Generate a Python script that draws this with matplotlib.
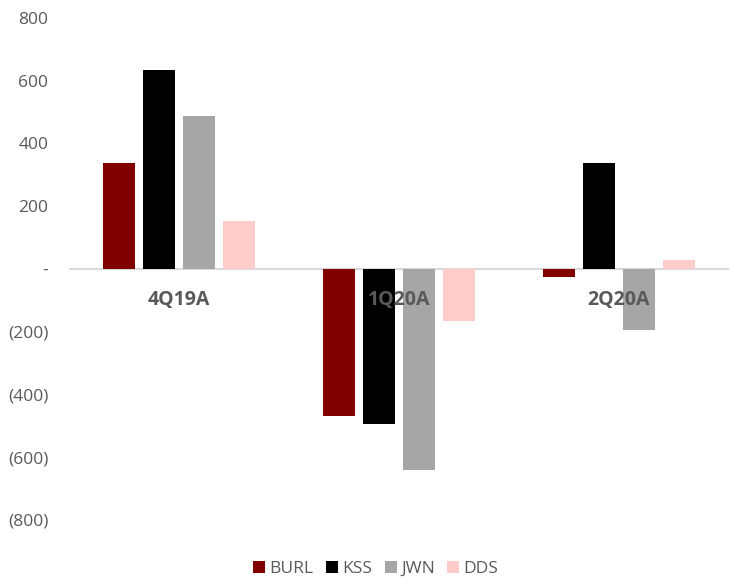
import numpy as np
import matplotlib.pyplot as plt

quarters = ['4Q19A', '1Q20A', '2Q20A']
burl = [339, -470, -26]
kss = [634, -493, 339]
jwn = [486, -640, -195]
dds = [154, -166, 29]

series = [('BURL', burl, '#800000'),
          ('KSS', kss, '#000000'),
          ('JWN', jwn, '#a6a6a6'),
          ('DDS', dds, '#ffcccc')]

plt.rcParams['font.family'] = ['Open Sans', 'DejaVu Sans']
grey = '#595959'

fig = plt.figure(figsize=(7.34, 5.77), dpi=100)
ax = fig.add_axes([0.094, 0.099, 0.899, 0.870])

x = np.arange(len(quarters))
width = 0.145
step = 0.182
for i, (name, vals, col) in enumerate(series):
    ax.bar(x + (i - 1.5) * step, vals, width, color=col, label=name, zorder=2)

ax.axhline(0, color='#d9d9d9', lw=1.5, zorder=1)
ax.set_xlim(-0.5, len(quarters) - 0.5)
ax.set_ylim(-800, 800)

ticks = np.arange(-800, 801, 200)
ax.set_yticks(ticks)
ax.set_yticklabels(['-' if t == 0 else (f'({abs(t)})' if t < 0 else f'{t}') for t in ticks],
                   color=grey, fontsize=12.5)
ax.tick_params(axis='y', length=0, pad=15)
ax.set_xticks([])
for s in ax.spines.values():
    s.set_visible(False)

for xi, q in zip(x, quarters):
    ax.text(xi, -100, q, ha='center', va='center', fontsize=14, fontweight='bold',
            color=grey, zorder=3)

ax.legend(loc='lower center', bbox_to_anchor=(0.465, -0.145), ncol=4, frameon=False,
          fontsize=12.5, labelcolor=grey, handlelength=0.7, handleheight=0.7,
          handletextpad=0.25, columnspacing=0.7)

fig.savefig('out.png', dpi=100)
